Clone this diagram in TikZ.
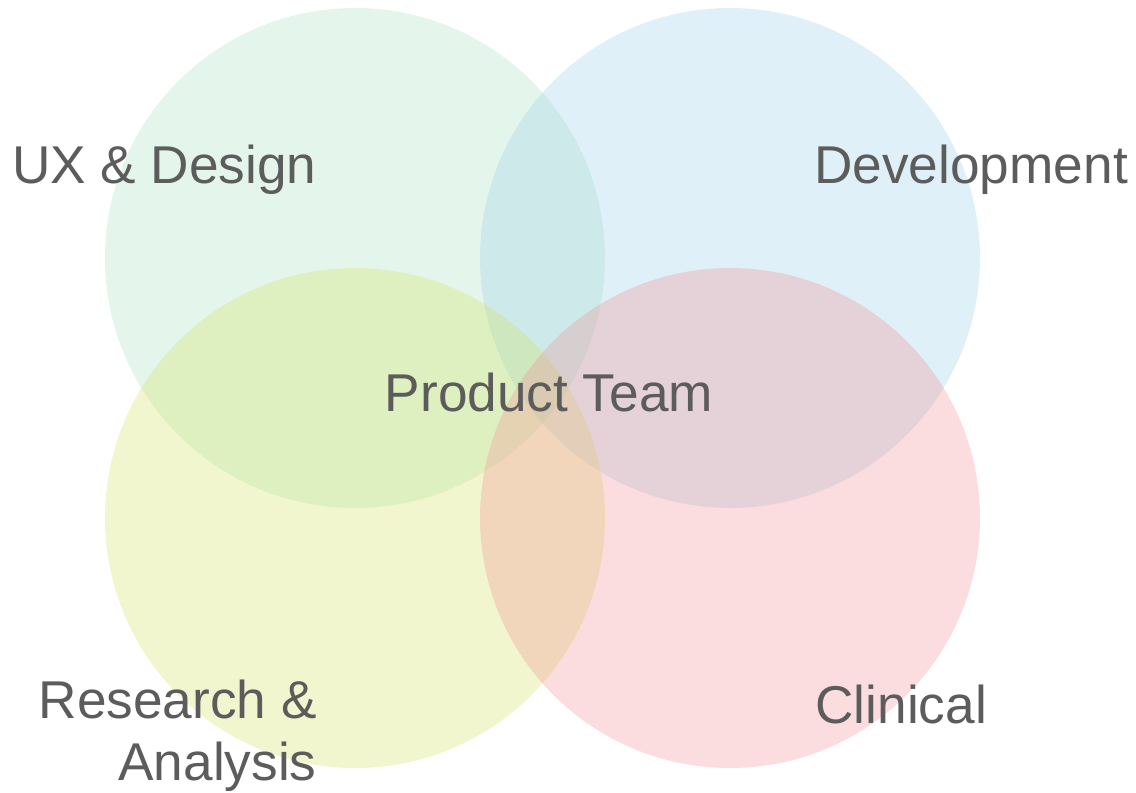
\documentclass[tikz,border=0pt]{standalone}
\usepackage{fontspec}
\setmainfont{Liberation Sans}
\usetikzlibrary{positioning}
\definecolor{uxgreen}{RGB}{165,225,192}
\definecolor{devblue}{RGB}{152,205,232}
\definecolor{resyellow}{RGB}{212,225,92}
\definecolor{clinpink}{RGB}{242,142,148}
\definecolor{labelgray}{RGB}{92,92,92}

\begin{document}
\begin{tikzpicture}[x=0.5pt,y=-0.5pt,node distance=130pt and 187.5pt,on grid,
        set/.style={circle,minimum size=250pt,inner sep=0pt,fill opacity=0.3},
        lbl/.style={text=labelgray,inner sep=0pt,font=\fontsize{26.6}{31}\selectfont}]
        \useasboundingbox (0,0) rectangle (1136,793);

        \node[set, fill=uxgreen]   (ux)   at (355,258)         {};
        \node[set, fill=devblue]   (dev)  [right=of ux]        {};
        \node[set, fill=resyellow] (res)  [below=of ux]        {};
        \node[set, fill=clinpink]  (clin) [below=of dev]       {};

        \node[lbl, anchor=base east]  (uxlbl)   at (317,183) {UX \& Design};
        \node[lbl, anchor=base west]  (devlbl)  at (814,183) {Development};
        \node[lbl, anchor=base]       (team)    at (549,411) {Product Team};
        \node[lbl, anchor=base east, align=right] (reslbl) at (317,780) {Research \&\\Analysis};
        \node[lbl, anchor=base west]  (clinlbl) at (815,723) {Clinical};
    \end{tikzpicture}
\end{document}
